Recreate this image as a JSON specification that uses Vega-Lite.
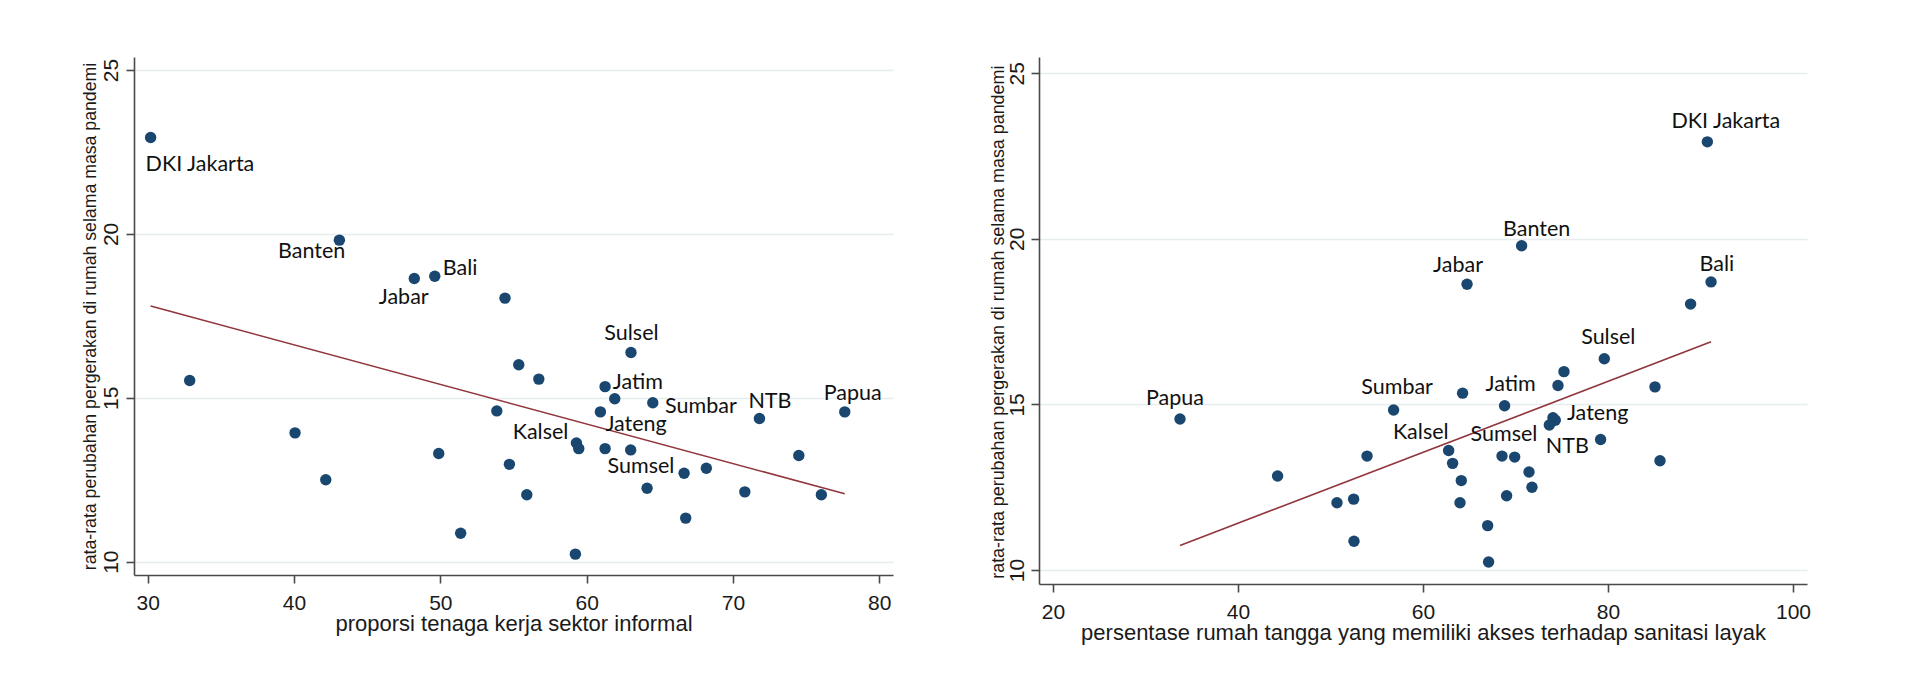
{
  "$schema": "https://vega.github.io/schema/vega-lite/v6.json",
  "background": "white",
  "padding": {"left": 80, "top": 57, "right": 5, "bottom": 5},
  "config": {"view": {"stroke": null}, "text": {"font": "Lato", "fontSize": 21.5, "color": "#111111", "baseline": "alphabetic"}},
  "bounds": "flush",
  "spacing": 146,
  "datasets": {
    "informal": [
      {"prov": "DKI Jakarta", "x": 30.2, "y": 22.94},
      {"prov": "Banten", "x": 43.1, "y": 19.81},
      {"prov": "Jabar", "x": 48.22, "y": 18.64},
      {"prov": "Bali", "x": 49.62, "y": 18.71},
      {"prov": "", "x": 54.42, "y": 18.04},
      {"prov": "Sulsel", "x": 63.03, "y": 16.38},
      {"prov": "", "x": 32.87, "y": 15.53},
      {"prov": "", "x": 40.07, "y": 13.93},
      {"prov": "", "x": 42.17, "y": 12.5},
      {"prov": "", "x": 49.89, "y": 13.3},
      {"prov": "", "x": 51.39, "y": 10.87},
      {"prov": "", "x": 55.36, "y": 16.01},
      {"prov": "", "x": 56.73, "y": 15.57},
      {"prov": "Jatim", "x": 61.26, "y": 15.34},
      {"prov": "", "x": 61.92, "y": 14.97},
      {"prov": "Sumbar", "x": 64.52, "y": 14.85},
      {"prov": "", "x": 53.86, "y": 14.6},
      {"prov": "Jateng", "x": 60.94, "y": 14.57},
      {"prov": "NTB", "x": 71.81, "y": 14.37},
      {"prov": "Papua", "x": 77.64, "y": 14.57},
      {"prov": "Kalsel", "x": 59.3, "y": 13.62},
      {"prov": "", "x": 59.46, "y": 13.45},
      {"prov": "", "x": 61.26, "y": 13.45},
      {"prov": "", "x": 63.01, "y": 13.41},
      {"prov": "", "x": 74.5, "y": 13.24},
      {"prov": "", "x": 54.72, "y": 12.97},
      {"prov": "Sumsel", "x": 66.66, "y": 12.7},
      {"prov": "", "x": 68.18, "y": 12.85},
      {"prov": "", "x": 64.13, "y": 12.24},
      {"prov": "", "x": 55.91, "y": 12.04},
      {"prov": "", "x": 70.81, "y": 12.13},
      {"prov": "", "x": 76.04, "y": 12.04},
      {"prov": "", "x": 66.77, "y": 11.33},
      {"prov": "", "x": 59.23, "y": 10.23}
    ],
    "informal_fit": [
      {"x": 30.2, "y": 17.8},
      {"x": 77.64, "y": 12.07}
    ],
    "sanitasi": [
      {"prov": "DKI Jakarta", "x": 90.74, "y": 22.93},
      {"prov": "Banten", "x": 70.66, "y": 19.79},
      {"prov": "Jabar", "x": 64.76, "y": 18.63},
      {"prov": "Bali", "x": 91.14, "y": 18.7},
      {"prov": "", "x": 88.93, "y": 18.03},
      {"prov": "Sulsel", "x": 79.6, "y": 16.38},
      {"prov": "", "x": 75.24, "y": 15.99},
      {"prov": "", "x": 74.59, "y": 15.57},
      {"prov": "", "x": 85.08, "y": 15.53},
      {"prov": "", "x": 64.28, "y": 15.34},
      {"prov": "Jatim", "x": 68.82, "y": 14.96},
      {"prov": "Sumbar", "x": 56.82, "y": 14.83},
      {"prov": "Papua", "x": 33.73, "y": 14.56},
      {"prov": "Jateng", "x": 74.05, "y": 14.6},
      {"prov": "", "x": 74.3, "y": 14.52},
      {"prov": "NTB", "x": 73.66, "y": 14.38},
      {"prov": "", "x": 79.2, "y": 13.94},
      {"prov": "Kalsel", "x": 62.77, "y": 13.61},
      {"prov": "", "x": 63.2, "y": 13.22},
      {"prov": "Sumsel", "x": 68.54, "y": 13.44},
      {"prov": "", "x": 69.91, "y": 13.41},
      {"prov": "", "x": 53.95, "y": 13.44},
      {"prov": "", "x": 85.62, "y": 13.3},
      {"prov": "", "x": 71.46, "y": 12.96},
      {"prov": "", "x": 44.28, "y": 12.84},
      {"prov": "", "x": 64.14, "y": 12.7},
      {"prov": "", "x": 71.78, "y": 12.5},
      {"prov": "", "x": 69.04, "y": 12.24},
      {"prov": "", "x": 64.0, "y": 12.03},
      {"prov": "", "x": 50.7, "y": 12.03},
      {"prov": "", "x": 52.5, "y": 12.14},
      {"prov": "", "x": 66.99, "y": 11.34},
      {"prov": "", "x": 67.09, "y": 10.24},
      {"prov": "", "x": 52.54, "y": 10.87}
    ],
    "sanitasi_fit": [
      {"x": 33.73, "y": 10.74},
      {"x": 91.14, "y": 16.89}
    ]
  },
  "hconcat": [
    {
      "width": 759,
      "height": 518,
      "encoding": {
        "x": {
          "field": "x", "type": "quantitative",
          "scale": {"domain": [29.064, 80.937], "nice": false, "zero": false},
          "axis": {
            "values": [30, 40, 50, 60, 70, 80], "grid": false,
            "domainColor": "#4a4a4a", "domainWidth": 1.6,
            "tickColor": "#4a4a4a", "tickWidth": 1.6, "tickSize": 8,
            "labelFont": "Liberation Sans", "labelFontSize": 21, "labelColor": "#1a1a1a", "labelPadding": 9,
            "title": "proporsi tenaga kerja sektor informal",
            "titleFont": "Liberation Sans", "titleFontSize": 22, "titleFontWeight": "normal", "titleColor": "#1a1a1a",
            "titleBaseline": "alphabetic", "titleY": 55.7, "titleX": 379.5, "titleAlign": "center"
          }
        },
        "y": {
          "field": "y", "type": "quantitative",
          "scale": {"domain": [9.594, 25.397], "nice": false, "zero": false},
          "axis": {
            "values": [10, 15, 20, 25], "grid": true, "gridColor": "#e6edf0", "gridWidth": 1.5,
            "domainColor": "#4a4a4a", "domainWidth": 1.6,
            "tickColor": "#4a4a4a", "tickWidth": 1.6, "tickSize": 8,
            "labelFont": "Liberation Sans", "labelFontSize": 21, "labelColor": "#1a1a1a", "labelPadding": 9,
            "labelAngle": 270, "labelAlign": "center", "labelBaseline": "alphabetic",
            "title": "rata-rata perubahan pergerakan di rumah selama masa pandemi",
            "titleFont": "Liberation Sans", "titleFontSize": 17.7, "titleFontWeight": "normal", "titleColor": "#1a1a1a",
            "titleAngle": 270, "titleBaseline": "alphabetic", "titleAlign": "center", "titleX": -39, "titleY": 259
          }
        }
      },
      "layer": [
        {"data": {"name": "informal_fit"}, "mark": {"type": "line", "color": "#90353b", "strokeWidth": 1.6}},
        {"data": {"name": "informal"}, "mark": {"type": "circle", "size": 130, "color": "#1a476f", "opacity": 1}},
        {"data": {"name": "informal"}, "transform": [{"filter": {"field": "prov", "equal": "DKI Jakarta"}}],
         "mark": {"type": "text", "align": "left", "dx": -5, "dy": 33.3},
         "encoding": {"text": {"field": "prov"}}},
        {"data": {"name": "informal"}, "transform": [{"filter": {"field": "prov", "equal": "Banten"}}],
         "mark": {"type": "text", "align": "right", "dx": 6, "dy": 18},
         "encoding": {"text": {"field": "prov"}}},
        {"data": {"name": "informal"}, "transform": [{"filter": {"field": "prov", "equal": "Jabar"}}],
         "mark": {"type": "text", "align": "right", "dx": 14.4, "dy": 25.6},
         "encoding": {"text": {"field": "prov"}}},
        {"data": {"name": "informal"}, "transform": [{"filter": {"field": "prov", "equal": "Bali"}}],
         "mark": {"type": "text", "align": "left", "dx": 8, "dy": -1.3},
         "encoding": {"text": {"field": "prov"}}},
        {"data": {"name": "informal"}, "transform": [{"filter": {"field": "prov", "equal": "Sulsel"}}],
         "mark": {"type": "text", "align": "center", "dx": 0.5, "dy": -12.7},
         "encoding": {"text": {"field": "prov"}}},
        {"data": {"name": "informal"}, "transform": [{"filter": {"field": "prov", "equal": "Jatim"}}],
         "mark": {"type": "text", "align": "left", "dx": 7.7, "dy": 2.3},
         "encoding": {"text": {"field": "prov"}}},
        {"data": {"name": "informal"}, "transform": [{"filter": {"field": "prov", "equal": "Sumbar"}}],
         "mark": {"type": "text", "align": "left", "dx": 12.3, "dy": 10.3},
         "encoding": {"text": {"field": "prov"}}},
        {"data": {"name": "informal"}, "transform": [{"filter": {"field": "prov", "equal": "Jateng"}}],
         "mark": {"type": "text", "align": "left", "dx": 5, "dy": 18.7},
         "encoding": {"text": {"field": "prov"}}},
        {"data": {"name": "informal"}, "transform": [{"filter": {"field": "prov", "equal": "NTB"}}],
         "mark": {"type": "text", "align": "center", "dx": 10.5, "dy": -10.4},
         "encoding": {"text": {"field": "prov"}}},
        {"data": {"name": "informal"}, "transform": [{"filter": {"field": "prov", "equal": "Papua"}}],
         "mark": {"type": "text", "align": "center", "dx": 8, "dy": -12},
         "encoding": {"text": {"field": "prov"}}},
        {"data": {"name": "informal"}, "transform": [{"filter": {"field": "prov", "equal": "Kalsel"}}],
         "mark": {"type": "text", "align": "right", "dx": -8, "dy": -4},
         "encoding": {"text": {"field": "prov"}}},
        {"data": {"name": "informal"}, "transform": [{"filter": {"field": "prov", "equal": "Sumsel"}}],
         "mark": {"type": "text", "align": "right", "dx": -9.7, "dy": 0},
         "encoding": {"text": {"field": "prov"}}}
      ]
    },
    {
      "width": 768,
      "height": 527,
      "encoding": {
        "x": {
          "field": "x", "type": "quantitative",
          "scale": {"domain": [18.486, 101.513], "nice": false, "zero": false},
          "axis": {
            "values": [20, 40, 60, 80, 100], "grid": false,
            "domainColor": "#4a4a4a", "domainWidth": 1.6,
            "tickColor": "#4a4a4a", "tickWidth": 1.6, "tickSize": 8,
            "labelFont": "Liberation Sans", "labelFontSize": 21, "labelColor": "#1a1a1a", "labelPadding": 9,
            "title": "persentase rumah tangga yang memiliki akses terhadap sanitasi layak",
            "titleFont": "Liberation Sans", "titleFontSize": 22, "titleFontWeight": "normal", "titleColor": "#1a1a1a",
            "titleBaseline": "alphabetic", "titleY": 55.3, "titleX": 384, "titleAlign": "center"
          }
        },
        "y": {
          "field": "y", "type": "quantitative",
          "scale": {"domain": [9.577, 25.492], "nice": false, "zero": false},
          "axis": {
            "values": [10, 15, 20, 25], "grid": true, "gridColor": "#e6edf0", "gridWidth": 1.5,
            "domainColor": "#4a4a4a", "domainWidth": 1.6,
            "tickColor": "#4a4a4a", "tickWidth": 1.6, "tickSize": 8,
            "labelFont": "Liberation Sans", "labelFontSize": 21, "labelColor": "#1a1a1a", "labelPadding": 8,
            "labelAngle": 270, "labelAlign": "center", "labelBaseline": "alphabetic",
            "title": "rata-rata perubahan pergerakan di rumah selama masa pandemi",
            "titleFont": "Liberation Sans", "titleFontSize": 17.9, "titleFontWeight": "normal", "titleColor": "#1a1a1a",
            "titleAngle": 270, "titleBaseline": "alphabetic", "titleAlign": "center", "titleX": -35.7, "titleY": 264.7
          }
        }
      },
      "layer": [
        {"data": {"name": "sanitasi_fit"}, "mark": {"type": "line", "color": "#90353b", "strokeWidth": 1.6}},
        {"data": {"name": "sanitasi"}, "mark": {"type": "circle", "size": 130, "color": "#1a476f", "opacity": 1}},
        {"data": {"name": "sanitasi"}, "transform": [{"filter": {"field": "prov", "equal": "DKI Jakarta"}}],
         "mark": {"type": "text", "align": "center", "dx": 18.5, "dy": -13.4},
         "encoding": {"text": {"field": "prov"}}},
        {"data": {"name": "sanitasi"}, "transform": [{"filter": {"field": "prov", "equal": "Banten"}}],
         "mark": {"type": "text", "align": "center", "dx": 15, "dy": -9.7},
         "encoding": {"text": {"field": "prov"}}},
        {"data": {"name": "sanitasi"}, "transform": [{"filter": {"field": "prov", "equal": "Jabar"}}],
         "mark": {"type": "text", "align": "center", "dx": -9, "dy": -12},
         "encoding": {"text": {"field": "prov"}}},
        {"data": {"name": "sanitasi"}, "transform": [{"filter": {"field": "prov", "equal": "Bali"}}],
         "mark": {"type": "text", "align": "center", "dx": 5.8, "dy": -11.3},
         "encoding": {"text": {"field": "prov"}}},
        {"data": {"name": "sanitasi"}, "transform": [{"filter": {"field": "prov", "equal": "Sulsel"}}],
         "mark": {"type": "text", "align": "center", "dx": 4, "dy": -15},
         "encoding": {"text": {"field": "prov"}}},
        {"data": {"name": "sanitasi"}, "transform": [{"filter": {"field": "prov", "equal": "Papua"}}],
         "mark": {"type": "text", "align": "center", "dx": -5, "dy": -14},
         "encoding": {"text": {"field": "prov"}}},
        {"data": {"name": "sanitasi"}, "transform": [{"filter": {"field": "prov", "equal": "Sumbar"}}],
         "mark": {"type": "text", "align": "center", "dx": 3.5, "dy": -15.7},
         "encoding": {"text": {"field": "prov"}}},
        {"data": {"name": "sanitasi"}, "transform": [{"filter": {"field": "prov", "equal": "Kalsel"}}],
         "mark": {"type": "text", "align": "right", "dx": 0, "dy": -11.7},
         "encoding": {"text": {"field": "prov"}}},
        {"data": {"name": "sanitasi"}, "transform": [{"filter": {"field": "prov", "equal": "Jatim"}}],
         "mark": {"type": "text", "align": "center", "dx": 6, "dy": -14.7},
         "encoding": {"text": {"field": "prov"}}},
        {"data": {"name": "sanitasi"}, "transform": [{"filter": {"field": "prov", "equal": "Sumsel"}}],
         "mark": {"type": "text", "align": "center", "dx": 2, "dy": -15.3},
         "encoding": {"text": {"field": "prov"}}},
        {"data": {"name": "sanitasi"}, "transform": [{"filter": {"field": "prov", "equal": "Jateng"}}],
         "mark": {"type": "text", "align": "left", "dx": 14, "dy": 2.3},
         "encoding": {"text": {"field": "prov"}}},
        {"data": {"name": "sanitasi"}, "transform": [{"filter": {"field": "prov", "equal": "NTB"}}],
         "mark": {"type": "text", "align": "center", "dx": 18, "dy": 27.7},
         "encoding": {"text": {"field": "prov"}}}
      ]
    }
  ]
}
